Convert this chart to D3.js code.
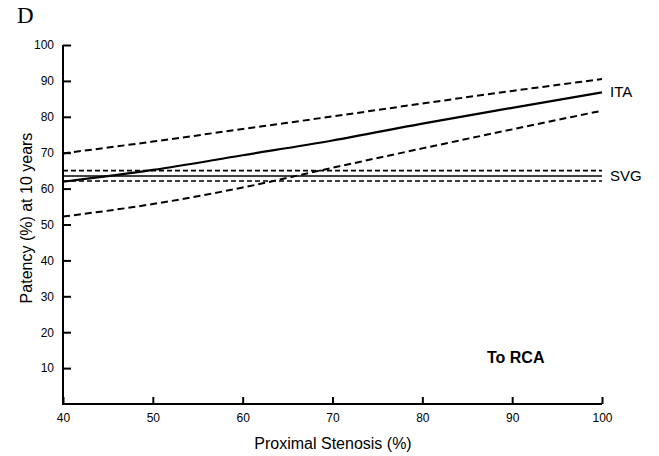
<!DOCTYPE html>
<html lang="en">
<head>
<meta charset="UTF-8">
<title>Patency to RCA</title>
<script src="https://d3js.org/d3.v7.min.js"></script>
<style>
    body { margin: 0; background: #fff; }
    svg { display: block; }
    .tick text { font-family: "Liberation Sans", Arial, sans-serif; font-size: 12px; fill: #000; }
</style>
</head>
<body>
<svg id="chart" width="659" height="456"></svg>
<script>
// stenosis (%) on x, patency (%) at 10 years on y
var stenosis = [40, 50, 60, 70, 80, 90, 100];
var itaMid   = [61.9, 65.2, 69.3, 73.4, 78.1, 82.5, 86.8];
var itaHigh  = [69.8, 73.1, 76.6, 80.1, 83.7, 87.2, 90.5];
var itaLow   = [52.2, 55.7, 60.3, 65.8, 71.2, 76.5, 81.7];
var svgMid   = [63.5, 63.5, 63.5, 63.5, 63.5, 63.5, 63.5];
var svgHigh  = [65.0, 65.0, 65.0, 65.0, 65.0, 65.0, 65.0];
var svgLow   = [62.1, 62.1, 62.1, 62.1, 62.1, 62.1, 62.1];
var xTicks = [40, 50, 60, 70, 80, 90, 100];
var yTicks = [10, 20, 30, 40, 50, 60, 70, 80, 90, 100];

var svg = d3.select("#chart");
var plotLeft = 63, plotRight = 602, plotTop = 45, plotBottom = 404;

var x = d3.scaleLinear().domain([40, 100]).range([plotLeft, plotRight]);
var y = d3.scaleLinear().domain([0, 100]).range([plotBottom, plotTop]);

// axes, ticks pointing inside
var xAxis = svg.append("g")
    .attr("transform", "translate(0," + plotBottom + ")")
    .call(d3.axisBottom(x).tickValues(xTicks).tickSize(-7).tickPadding(9).tickSizeOuter(0));

var yAxis = svg.append("g")
    .attr("transform", "translate(" + plotLeft + ",0)")
    .call(d3.axisLeft(y).tickValues(yTicks).tickSize(-8).tickPadding(9).tickSizeOuter(0));

svg.selectAll(".domain").attr("stroke", "#000").attr("stroke-width", 2);
svg.selectAll(".tick line").attr("stroke", "#000").attr("stroke-width", 2);
// y axis line goes down to meet the x axis
yAxis.select(".domain").attr("d", "M0," + y(100) + "V" + (plotBottom + 1));
xAxis.select(".domain").attr("d", "M" + (plotLeft - 1) + ",0H" + plotRight);

var line = d3.line()
    .x(function (d, i) { return x(stenosis[i]); })
    .y(function (d) { return y(d); })
    .curve(d3.curveMonotoneX);

function draw(values, width, dash) {
    svg.append("path")
        .attr("d", line(values))
        .attr("fill", "none")
        .attr("stroke", "#000")
        .attr("stroke-width", width)
        .attr("stroke-dasharray", dash);
}

draw(svgHigh, 1.6, "5,3");
draw(svgLow, 1.6, "5,3");
draw(svgMid, 1.6, null);
draw(itaHigh, 2, "7,4");
draw(itaLow, 2, "7,4");
draw(itaMid, 2.2, null);

var font = "'Liberation Sans', Arial, sans-serif";

svg.append("text").attr("x", x(100) + 8).attr("y", y(itaMid[6]) + 5)
    .attr("font-family", font).attr("font-size", 15).text("ITA");
svg.append("text").attr("x", x(100) + 8).attr("y", y(svgMid[6]) + 5)
    .attr("font-family", font).attr("font-size", 15).text("SVG");

svg.append("text").attr("x", 487).attr("y", 363)
    .attr("font-family", font).attr("font-size", 16).attr("font-weight", "bold").text("To RCA");

svg.append("text").attr("x", 333).attr("y", 449)
    .attr("text-anchor", "middle").attr("font-family", font).attr("font-size", 16)
    .text("Proximal Stenosis (%)");

svg.append("text")
    .attr("transform", "translate(32,218) rotate(-90)")
    .attr("text-anchor", "middle").attr("font-family", font).attr("font-size", 16)
    .text("Patency (%) at 10 years");

svg.append("text").attr("x", 17).attr("y", 23)
    .attr("font-family", "'Liberation Serif', 'Times New Roman', serif").attr("font-size", 23)
    .text("D");
</script>
</body>
</html>
